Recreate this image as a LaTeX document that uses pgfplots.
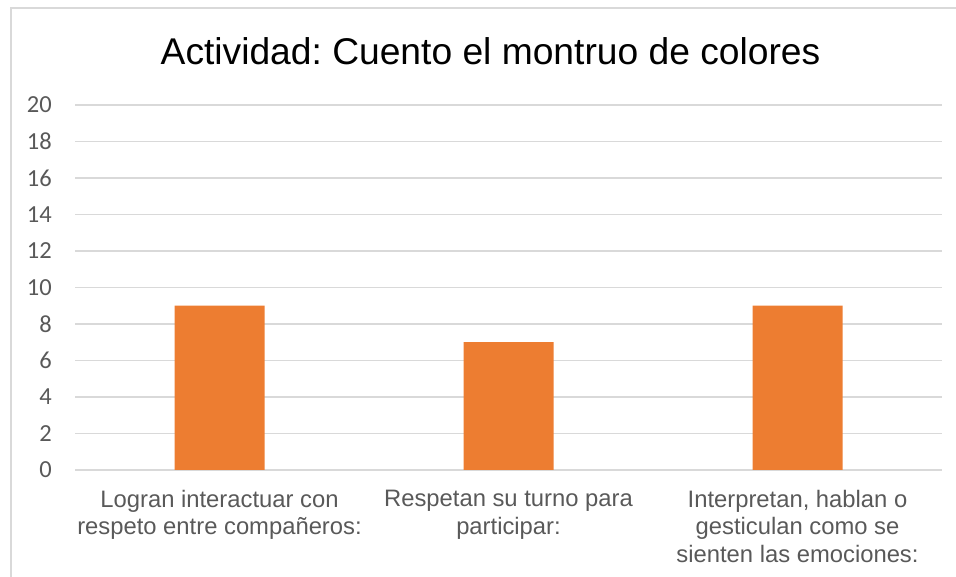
\documentclass[border=0pt]{standalone}
\usepackage{pgfplots}
\pgfplotsset{compat=1.18}
\usepackage{fontspec}
\setmainfont{Liberation Sans}
\newfontfamily\calibri{Carlito}
\definecolor{barorange}{HTML}{ED7D31}
\definecolor{gridgray}{HTML}{D9D9D9}
\definecolor{txtgray}{HTML}{595959}
\frenchspacing
\begin{document}
\begin{tikzpicture}[x=1pt,y=1pt]
\useasboundingbox (0,0) rectangle (956,577);
\draw[gridgray, line width=1.5pt] (11,-5) -- (11,569) -- (970,569);
\node[anchor=base, font=\fontsize{37.2}{40}\selectfont, text=black, inner sep=0pt] at (490.5,512) {Actividad: Cuento el montruo de colores};
\begin{axis}[
  at={(75pt,107pt)}, anchor=south west,
  scale only axis, width=867pt, height=365pt,
  xmin=-0.5, xmax=2.5, ymin=0, ymax=20,
  ytick={0,2,...,20},
  xtick={0,1,2},
  xticklabels={{Logran interactuar con\\respeto entre compañeros:},{Respetan su turno para\\participar:},{Interpretan, hablan o\\gesticulan como se\\sienten las emociones:}},
  axis line style={draw=none},
  ymajorgrids, grid style={gridgray, line width=1.2pt},
  major tick length=0pt,
  yticklabel style={font=\calibri\fontsize{24.5}{27}\selectfont, text=txtgray, inner sep=0pt, xshift=-23pt},
  xticklabel style={font=\fontsize{23.8}{27.5}\selectfont, text=txtgray, align=center, inner sep=0pt, yshift=-20pt, anchor=north},
  /pgf/number format/assume math mode=true,
  clip=false,
]
\addplot[ybar, bar width=90pt, fill=barorange, draw=none] coordinates {(0,9) (1,7) (2,9)};
\end{axis}
\end{tikzpicture}
\end{document}
